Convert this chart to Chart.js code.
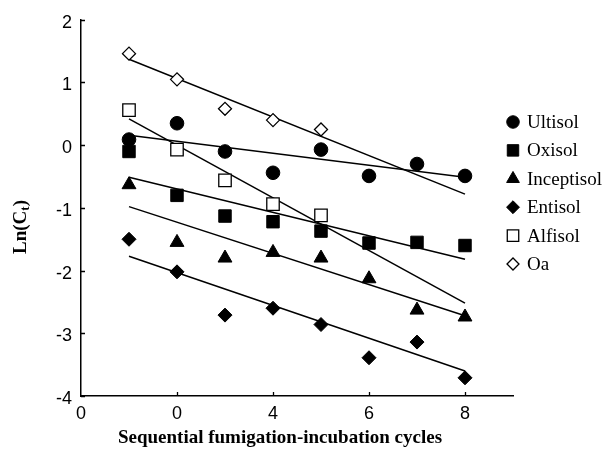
<!DOCTYPE html>
<html>
<head>
<meta charset="utf-8">
<script src="https://cdn.jsdelivr.net/npm/chart.js@4/dist/chart.umd.min.js"></script>
<style>
  html, body { margin: 0; padding: 0; background: #fff; }
  #wrap { width: 612px; height: 458px; }
</style>
</head>
<body>
<div id="wrap"><canvas id="grafico" width="612" height="458"></canvas></div>
<script>
// Ejes
const xTickValues = [0, 2, 4, 6, 8];
const xTickLabels = ['0', '0', '4', '6', '8'];
const yTickValues = [-4, -3, -2, -1, 0, 1, 2];

// Ciclos
const ciclos = [1, 2, 3, 4, 5, 6, 7, 8];

// Ln(Ct)
const ultisol    = [0.09, 0.35, -0.10, -0.44, -0.07, -0.49, -0.30, -0.49];
const oxisol     = [-0.10, -0.80, -1.13, -1.22, -1.37, -1.56, -1.55, -1.60];
const inceptisol = [-0.63, -1.55, -1.80, -1.71, -1.80, -2.13, -2.63, -2.74];
const entisol    = [-1.50, -2.02, -2.71, -2.60, -2.86, -3.39, -3.14, -3.71];
const alfisol    = [0.56, -0.07, -0.56, -0.94, -1.12];
const oa         = [1.46, 1.05, 0.58, 0.40, 0.25];

// Rectas de tendencia (inicio en x=1, fin en x=8)
const tendX = [1, 8];
const tendUltisol    = [0.16, -0.51];
const tendOxisol     = [-0.51, -1.82];
const tendInceptisol = [-0.98, -2.72];
const tendEntisol    = [-1.77, -3.60];
const tendAlfisol    = [0.42, -2.52];
const tendOa         = [1.37, -0.78];

const series = [
  { nombre: 'Ultisol', datos: ultisol, tend: tendUltisol, estilo: 'circle', radio: 6.8, relleno: '#000' },
  { nombre: 'Oxisol', datos: oxisol, tend: tendOxisol, estilo: 'rect', radio: 8.8, relleno: '#000' },
  { nombre: 'Inceptisol', datos: inceptisol, tend: tendInceptisol, estilo: 'triangle', radio: 8, relleno: '#000' },
  { nombre: 'Entisol', datos: entisol, tend: tendEntisol, estilo: 'rectRot', radio: 7, relleno: '#000' },
  { nombre: 'Alfisol', datos: alfisol, tend: tendAlfisol, estilo: 'rect', radio: 8.8, relleno: '#fff' },
  { nombre: 'Oa', datos: oa, tend: tendOa, estilo: 'rectRot', radio: 6.5, relleno: '#fff' }
];

const puntos = arr => arr.map((v, i) => ({ x: ciclos[i], y: v }));

const datasets = [];
series.forEach(s => {
  datasets.push({
    type: 'line',
    label: s.nombre + ' tendencia',
    data: s.tend.map((v, i) => ({ x: tendX[i], y: v })),
    borderColor: '#000',
    borderWidth: 1.5,
    pointRadius: 0,
    fill: false,
    order: 2,
    esTendencia: true
  });
});
series.forEach(s => {
  datasets.push({
    type: 'scatter',
    label: s.nombre,
    data: puntos(s.datos),
    pointStyle: s.estilo,
    pointRadius: s.radio,
    pointHoverRadius: s.radio,
    backgroundColor: s.relleno,
    borderColor: '#000',
    borderWidth: s.relleno === '#fff' ? 1.3 : 1,
    order: 1
  });
});

// Ejes, marcas, titulos y leyenda
const extras = {
  id: 'extras',
  afterDraw(chart) {
    const ctx = chart.ctx;
    const xs = chart.scales.x, ys = chart.scales.y;
    const area = chart.chartArea;
    ctx.save();
    ctx.strokeStyle = '#000';
    ctx.lineWidth = 1.3;
    ctx.beginPath();
    yTickValues.forEach(v => {
      const py = Math.round(ys.getPixelForValue(v)) + 0.5;
      ctx.moveTo(area.left, py);
      ctx.lineTo(area.left + 4, py);
    });
    xTickValues.slice(1).forEach(v => {
      const px = Math.round(xs.getPixelForValue(v)) + 0.5;
      ctx.moveTo(px, area.bottom);
      ctx.lineTo(px, area.bottom - 4);
    });
    ctx.stroke();

    // Titulo eje X
    ctx.fillStyle = '#000';
    ctx.font = 'bold 19px "Liberation Serif"';
    ctx.textAlign = 'center';
    ctx.textBaseline = 'middle';
    ctx.fillText('Sequential fumigation-incubation cycles', 280, 438);

    // Titulo eje Y con subindice
    ctx.translate(21, 227);
    ctx.rotate(-Math.PI / 2);
    const fGrande = 'bold 19px "Liberation Serif"';
    const fChica = 'bold 13px "Liberation Serif"';
    ctx.font = fGrande;
    const w1 = ctx.measureText('Ln(C').width;
    const w3 = ctx.measureText(')').width;
    ctx.font = fChica;
    const w2 = ctx.measureText('t').width;
    let x0 = -(w1 + w2 + w3) / 2;
    ctx.textAlign = 'left';
    ctx.font = fGrande;
    ctx.fillText('Ln(C', x0, 0);
    ctx.font = fChica;
    ctx.fillText('t', x0 + w1, 5);
    ctx.font = fGrande;
    ctx.fillText(')', x0 + w1 + w2, 0);
    ctx.restore();

    // Leyenda
    ctx.save();
    const dsPuntos = chart.data.datasets.filter(d => !d.esTendencia);
    ctx.font = '19px "Liberation Serif"';
    ctx.textAlign = 'left';
    ctx.textBaseline = 'middle';
    ctx.fillStyle = '#000';
    dsPuntos.forEach((d, i) => {
      const y = 122 + i * 28.4;
      ctx.fillStyle = d.backgroundColor;
      ctx.strokeStyle = '#000';
      ctx.lineWidth = d.borderWidth;
      Chart.helpers.drawPoint(ctx, {
        pointStyle: d.pointStyle,
        radius: d.pointRadius * 0.92,
        rotation: 0,
        borderWidth: d.borderWidth
      }, 513, y);
      ctx.fillStyle = '#000';
      ctx.fillText(d.label, 527, y + 1);
    });
    ctx.restore();
  }
};

new Chart(document.getElementById('grafico').getContext('2d'), {
  type: 'scatter',
  data: { datasets: datasets },
  options: {
    responsive: false,
    animation: false,
    events: [],
    layout: { padding: { top: 12, right: 99, left: 0, bottom: 0 } },
    plugins: { legend: { display: false }, tooltip: { enabled: false } },
    scales: {
      x: {
        type: 'linear',
        min: 0,
        max: 9,
        afterFit: s => { s.height = 62; },
        afterBuildTicks: s => { s.ticks = xTickValues.map(v => ({ value: v })); },
        grid: { display: true, drawOnChartArea: false, drawTicks: false },
        border: { color: '#000', width: 1.5 },
        ticks: {
          padding: 7,
          color: '#000',
          font: { family: 'Liberation Sans', size: 18 },
          maxRotation: 0,
          autoSkip: false,
          callback: (v, i) => xTickLabels[i]
        }
      },
      y: {
        type: 'linear',
        min: -4,
        max: 2,
        afterFit: s => { s.width = 81; },
        afterBuildTicks: s => { s.ticks = yTickValues.map(v => ({ value: v })); },
        grid: { display: true, drawOnChartArea: false, drawTicks: false },
        border: { color: '#000', width: 1.5 },
        ticks: {
          padding: 9,
          labelOffset: 3,
          color: '#000',
          font: { family: 'Liberation Sans', size: 18 },
          callback: v => String(v)
        }
      }
    }
  },
  plugins: [extras]
});
</script>
</body>
</html>
